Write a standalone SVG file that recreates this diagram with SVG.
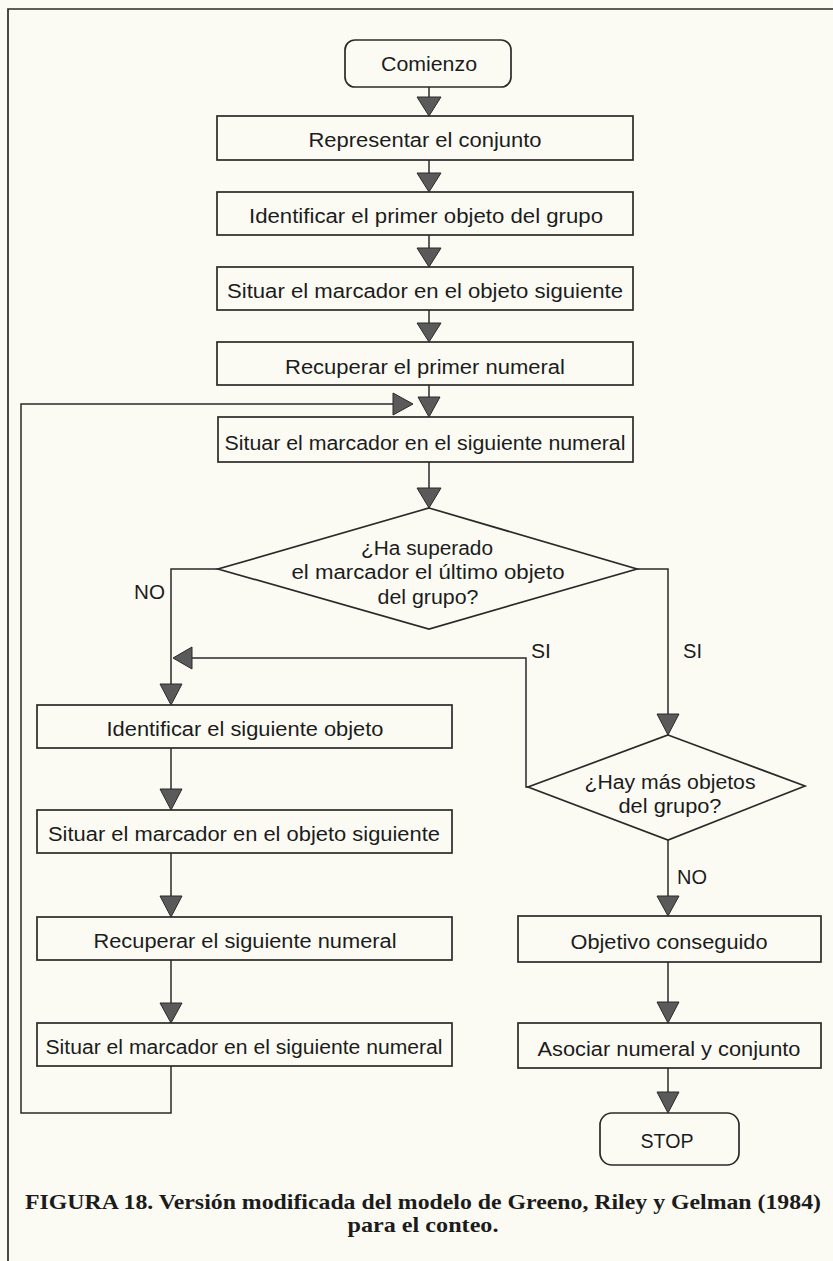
<svg xmlns="http://www.w3.org/2000/svg" width="833" height="1261" viewBox="0 0 833 1261">
<style>
.bg{fill:#fbfbf4}
.box{fill:none;stroke:#2a2a2a;stroke-width:1.7}
.ln{fill:none;stroke:#2a2a2a;stroke-width:1.5}
.ah{fill:#5a5a5a;stroke:#2a2a2a;stroke-width:1}
.t{font-family:"Liberation Sans",Arial,sans-serif;font-size:20px;fill:#1c1c1c;text-anchor:middle}
.lb{font-family:"Liberation Sans",Arial,sans-serif;font-size:20px;fill:#1c1c1c}
.cap{font-family:"Liberation Serif","Times New Roman",serif;font-weight:bold;font-size:22px;fill:#1c1c1c;text-anchor:middle}
</style>
<rect class="bg" x="0" y="0" width="833" height="1261"/>
<polyline class="box" points="833,9 8,9 8,1261"/>

<g id="connectors">
<line class="ln" x1="429" y1="87" x2="429" y2="100"/>
<polygon class="ah" points="417,97 441,97 429,116"/>
<line class="ln" x1="429" y1="160" x2="429" y2="175"/>
<polygon class="ah" points="417,173 441,173 429,192"/>
<line class="ln" x1="429" y1="235" x2="429" y2="250"/>
<polygon class="ah" points="417,248 441,248 429,267"/>
<line class="ln" x1="429" y1="310" x2="429" y2="325"/>
<polygon class="ah" points="417,323 441,323 429,342"/>
<line class="ln" x1="429" y1="385" x2="429" y2="399"/>
<polygon class="ah" points="418,397 440,397 429,417"/>
<line class="ln" x1="429" y1="462" x2="429" y2="490"/>
<polygon class="ah" points="417,488 441,488 429,508"/>
<polyline class="ln" points="218,569 171,569 171,686"/>
<polygon class="ah" points="160,684 182,684 171,705"/>
<polyline class="ln" points="528,787 526,787 526,658 190,658"/>
<polygon class="ah" points="192,647 192,669 173,658"/>
<polyline class="ln" points="637,569 668,569 668,716"/>
<polygon class="ah" points="657,714 679,714 668,735"/>
<line class="ln" x1="171" y1="748" x2="171" y2="791"/>
<polygon class="ah" points="160,789 182,789 171,810"/>
<line class="ln" x1="171" y1="853" x2="171" y2="898"/>
<polygon class="ah" points="160,896 182,896 171,917"/>
<line class="ln" x1="171" y1="960" x2="171" y2="1005"/>
<polygon class="ah" points="160,1003 182,1003 171,1023"/>
<polyline class="ln" points="171,1066 171,1113 21,1113 21,404 395,404"/>
<polygon class="ah" points="393,393 393,415 413,404"/>
<line class="ln" x1="668" y1="840" x2="668" y2="898"/>
<polygon class="ah" points="657,896 679,896 668,916"/>
<line class="ln" x1="668" y1="962" x2="668" y2="1004"/>
<polygon class="ah" points="657,1002 679,1002 668,1023"/>
<line class="ln" x1="668" y1="1068" x2="668" y2="1094"/>
<polygon class="ah" points="657,1092 679,1092 668,1113"/>
<text class="lb" x="134" y="599" textLength="31" lengthAdjust="spacingAndGlyphs">NO</text>
<text class="lb" x="531" y="658" textLength="20" lengthAdjust="spacingAndGlyphs">SI</text>
<text class="lb" x="683" y="658" textLength="19" lengthAdjust="spacingAndGlyphs">SI</text>
<text class="lb" x="677" y="884" textLength="30" lengthAdjust="spacingAndGlyphs">NO</text>
</g>

<g id="n-comienzo">
<rect class="box" x="345" y="40" width="166" height="47" rx="10"/>
<text class="t" x="429" y="71" textLength="96" lengthAdjust="spacingAndGlyphs">Comienzo</text>
</g>
<g id="n-representar">
<rect class="box" x="217" y="116" width="416" height="44"/>
<text class="t" x="425" y="147" textLength="233" lengthAdjust="spacingAndGlyphs">Representar el conjunto</text>
</g>
<g id="n-identificar-primero">
<rect class="box" x="217" y="192" width="416" height="43"/>
<text class="t" x="426" y="223" textLength="354" lengthAdjust="spacingAndGlyphs">Identificar el primer objeto del grupo</text>
</g>
<g id="n-situar-objeto-1">
<rect class="box" x="217" y="267" width="416" height="43"/>
<text class="t" x="425" y="298" textLength="396" lengthAdjust="spacingAndGlyphs">Situar el marcador en el objeto siguiente</text>
</g>
<g id="n-recuperar-primero">
<rect class="box" x="217" y="342" width="416" height="43"/>
<text class="t" x="425" y="374" textLength="280" lengthAdjust="spacingAndGlyphs">Recuperar el primer numeral</text>
</g>
<g id="n-situar-numeral-1">
<rect class="box" x="218" y="417" width="415" height="45"/>
<text class="t" x="425" y="450" textLength="401" lengthAdjust="spacingAndGlyphs">Situar el marcador en el siguiente numeral</text>
</g>
<g id="n-decision-1">
<polygon class="box" points="429,508 637,569 429,629 218,569"/>
<text class="t" x="427" y="555" textLength="132" lengthAdjust="spacingAndGlyphs">¿Ha superado</text>
<text class="t" x="428" y="579" textLength="273" lengthAdjust="spacingAndGlyphs">el marcador el último objeto</text>
<text class="t" x="428" y="604" textLength="101" lengthAdjust="spacingAndGlyphs">del grupo?</text>
</g>
<g id="n-identificar-siguiente">
<rect class="box" x="37" y="705" width="415" height="43"/>
<text class="t" x="245" y="736" textLength="277" lengthAdjust="spacingAndGlyphs">Identificar el siguiente objeto</text>
</g>
<g id="n-situar-objeto-2">
<rect class="box" x="37" y="810" width="415" height="43"/>
<text class="t" x="244" y="841" textLength="392" lengthAdjust="spacingAndGlyphs">Situar el marcador en el objeto siguiente</text>
</g>
<g id="n-recuperar-siguiente">
<rect class="box" x="37" y="917" width="415" height="43"/>
<text class="t" x="245" y="948" textLength="303" lengthAdjust="spacingAndGlyphs">Recuperar el siguiente numeral</text>
</g>
<g id="n-situar-numeral-2">
<rect class="box" x="37" y="1023" width="415" height="43"/>
<text class="t" x="244" y="1054" textLength="397" lengthAdjust="spacingAndGlyphs">Situar el marcador en el siguiente numeral</text>
</g>
<g id="n-decision-2">
<polygon class="box" points="668,735 805,786 668,840 528,787"/>
<text class="t" x="670" y="789" textLength="171" lengthAdjust="spacingAndGlyphs">¿Hay más objetos</text>
<text class="t" x="670" y="813" textLength="103" lengthAdjust="spacingAndGlyphs">del grupo?</text>
</g>
<g id="n-objetivo">
<rect class="box" x="518" y="916" width="303" height="46"/>
<text class="t" x="669" y="949" textLength="197" lengthAdjust="spacingAndGlyphs">Objetivo conseguido</text>
</g>
<g id="n-asociar">
<rect class="box" x="518" y="1023" width="303" height="45"/>
<text class="t" x="669" y="1056" textLength="263" lengthAdjust="spacingAndGlyphs">Asociar numeral y conjunto</text>
</g>
<g id="n-stop">
<rect class="box" x="600" y="1113" width="139" height="52" rx="12"/>
<text class="t" x="667" y="1148" textLength="53" lengthAdjust="spacingAndGlyphs">STOP</text>
</g>

<g id="caption">
<text class="cap" x="423" y="1209" textLength="796" lengthAdjust="spacingAndGlyphs">FIGURA 18. Versión modificada del modelo de Greeno, Riley y Gelman (1984)</text>
<text class="cap" x="423" y="1232" textLength="151" lengthAdjust="spacingAndGlyphs">para el conteo.</text>
</g>
</svg>
